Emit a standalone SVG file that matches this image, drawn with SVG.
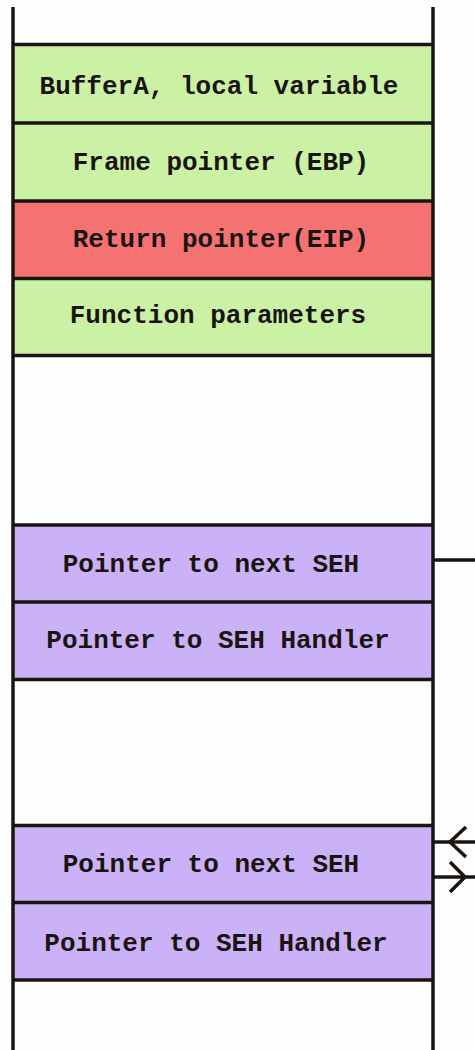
<svg xmlns="http://www.w3.org/2000/svg" width="475" height="1050" viewBox="0 0 475 1050">
<style>
.lbl{font-family:"Liberation Mono","Courier New",monospace;font-weight:bold;font-size:26px;fill:#1a1410;text-anchor:middle}
.g{fill:#cbf2a4}
.r{fill:#f57272}
.p{fill:#cab1f8}
.ln{stroke:#1a1410;stroke-width:3.5;fill:none}
</style>
<rect width="475" height="1050" fill="#fdfdfd"/>
<g id="bufferA"><rect class="g" x="13" y="44.5" width="420" height="78.5"/><text class="lbl" x="219" y="94">BufferA, local variable</text></g>
<g id="frame-pointer"><rect class="g" x="13" y="123" width="420" height="78"/><text class="lbl" x="221" y="170">Frame pointer (EBP)</text></g>
<g id="return-pointer"><rect class="r" x="13" y="201" width="420" height="77.5"/><text class="lbl" x="221" y="247">Return pointer(EIP)</text></g>
<g id="function-params"><rect class="g" x="13" y="278.5" width="420" height="77"/><text class="lbl" x="218" y="323">Function parameters</text></g>
<g id="seh1-next"><rect class="p" x="13" y="525" width="420" height="77"/><text class="lbl" x="211" y="572">Pointer to next SEH</text></g>
<g id="seh1-handler"><rect class="p" x="13" y="602" width="420" height="77.5"/><text class="lbl" x="218" y="648">Pointer to SEH Handler</text></g>
<g id="seh2-next"><rect class="p" x="13" y="825.5" width="420" height="77"/><text class="lbl" x="211" y="872">Pointer to next SEH</text></g>
<g id="seh2-handler"><rect class="p" x="13" y="902.5" width="420" height="77.5"/><text class="lbl" x="216" y="951">Pointer to SEH Handler</text></g>
<g id="stack-lines" class="ln">
<line x1="13" y1="7" x2="13" y2="1050"/>
<line x1="433" y1="7" x2="433" y2="1050"/>
<line x1="13" y1="44.5" x2="433" y2="44.5"/>
<line x1="13" y1="123" x2="433" y2="123"/>
<line x1="13" y1="201" x2="433" y2="201"/>
<line x1="13" y1="278.5" x2="433" y2="278.5"/>
<line x1="13" y1="355.5" x2="433" y2="355.5"/>
<line x1="13" y1="525" x2="433" y2="525"/>
<line x1="13" y1="602" x2="433" y2="602"/>
<line x1="13" y1="679.5" x2="433" y2="679.5"/>
<line x1="13" y1="825.5" x2="433" y2="825.5"/>
<line x1="13" y1="902.5" x2="433" y2="902.5"/>
<line x1="13" y1="980" x2="433" y2="980"/>
</g>
<g id="connectors" class="ln">
<line x1="433" y1="560" x2="475" y2="560"/>
<line x1="433" y1="842" x2="475" y2="842"/>
<polyline points="466,827 450,842 466,857"/>
<line x1="433" y1="877" x2="475" y2="877"/>
<polyline points="450,862 465,877 450,892"/>
</g>
</svg>
